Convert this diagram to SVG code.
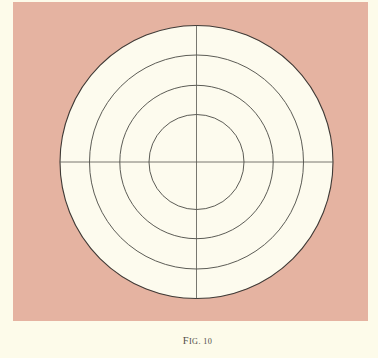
<svg xmlns="http://www.w3.org/2000/svg" width="378" height="358" viewBox="0 0 378 358">
<style>
.ring{fill:none;stroke:#4a4a44;stroke-width:0.9}
.axis{stroke:#55554e;stroke-width:0.8}
.cap{font-family:"Liberation Serif",serif;fill:#4f4b46;letter-spacing:0.4px}
</style>
<rect x="0" y="0" width="378" height="358" fill="#fdfbea"/>
<rect id="panel" x="13" y="2" width="355" height="319" fill="#e5b3a1"/>
<g id="target">
<circle cx="196.5" cy="162" r="136.5" fill="#fdfbee" stroke="#3f3a36" stroke-width="1.1"/>
<circle class="ring" cx="196.5" cy="162" r="107"/>
<circle class="ring" cx="196.5" cy="162" r="76.7"/>
<circle class="ring" cx="196.5" cy="162" r="47.5"/>
</g>
<g id="axes">
<line class="axis" x1="196.5" y1="25.5" x2="196.5" y2="298.5"/>
<line class="axis" x1="60" y1="162" x2="333" y2="162"/>
</g>
<text class="cap" x="197.5" y="344" text-anchor="middle"><tspan font-size="10.5">F</tspan><tspan font-size="8.2">IG. 10</tspan></text>
</svg>
